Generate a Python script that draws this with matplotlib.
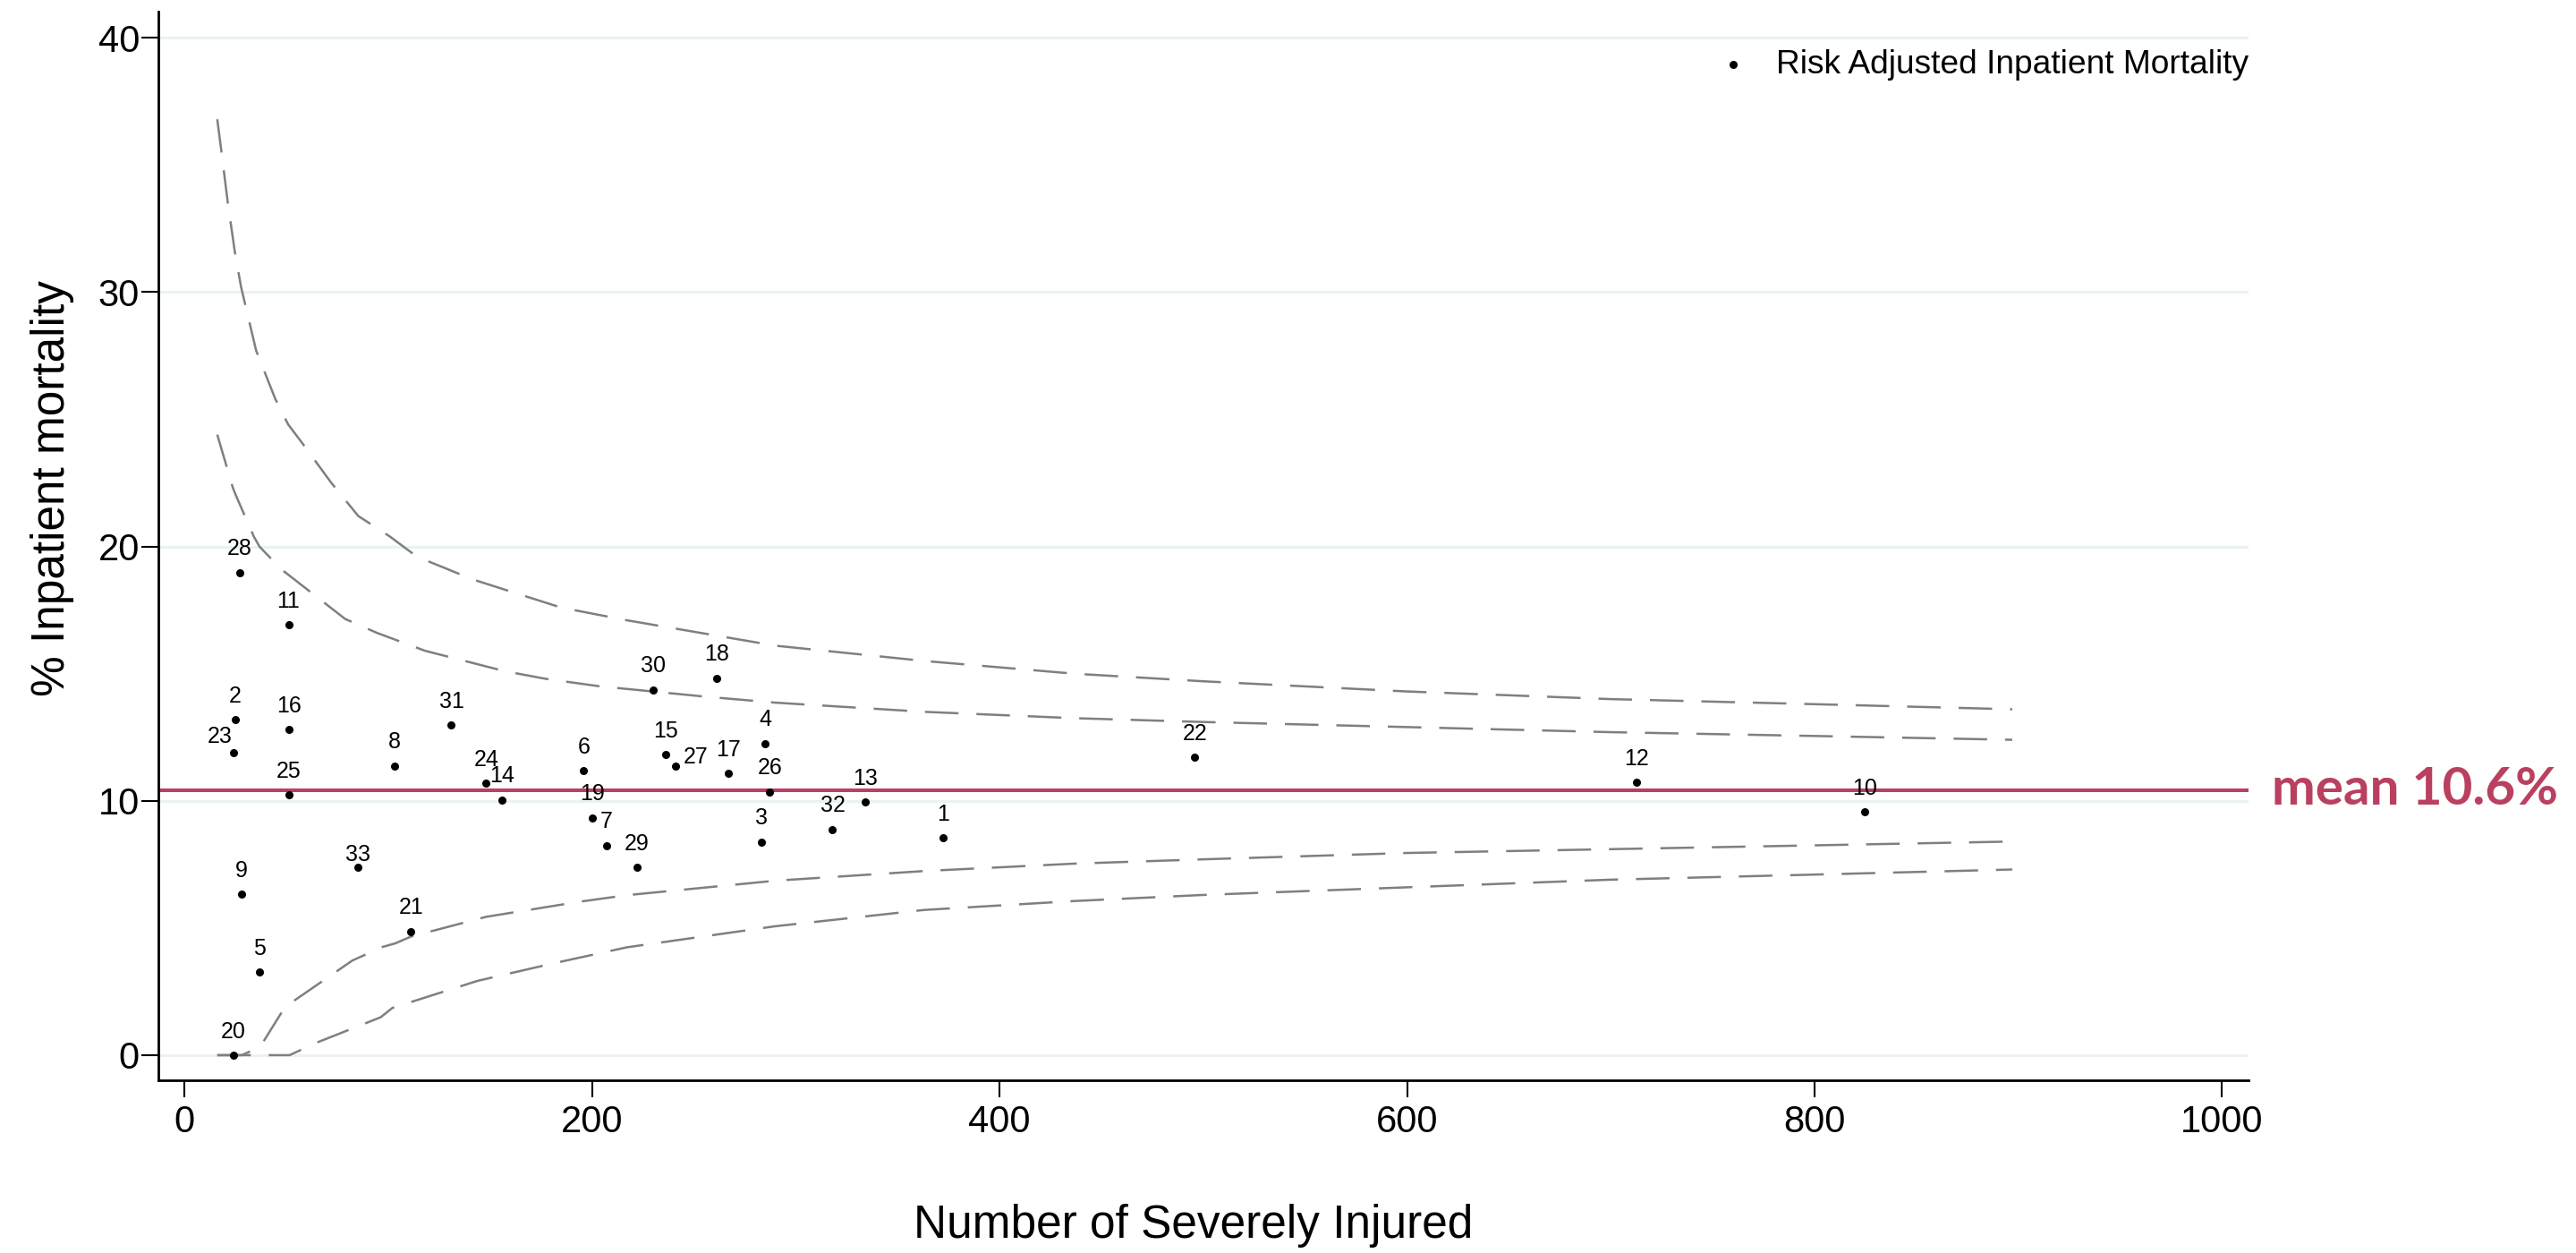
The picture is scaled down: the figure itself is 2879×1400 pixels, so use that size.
import matplotlib
matplotlib.use("Agg")
import matplotlib.pyplot as plt

# hospital id, number of severely injured, risk adjusted mortality (%)
hosp_id = [str(i) for i in range(1, 34)]
n_injured = [372.1, 24.9, 283.1, 285.0, 36.9, 195.9, 207.0, 102.9, 27.8, 824.7,
             51.0, 712.6, 334.1, 155.9, 236.0, 51.1, 267.0, 261.0, 200.0, 23.9,
             111.0, 495.7, 23.9, 148.0, 51.1, 287.1, 241.1, 27.1, 222.1, 230.1,
             130.9, 318.0, 84.9]
mortality = [8.54, 13.19, 8.39, 12.26, 3.27, 11.18, 8.25, 11.37, 6.32, 9.57,
             16.92, 10.73, 9.96, 10.04, 11.81, 12.80, 11.07, 14.82, 9.34, 0.0,
             4.87, 11.70, 11.89, 10.69, 10.24, 10.36, 11.37, 18.98, 7.39, 14.37,
             12.98, 8.88, 7.39]
mean_rate = 10.42
mean_text = "mean 10.6%"

# control limits
upper_outer_x = [16, 18.1, 21.2, 24.6, 27.7, 35.1, 44.5, 50.8, 57.4, 72, 85.2, 100.6,
                 114, 141.6, 184.7, 217, 290, 363, 436.5, 500, 600, 700, 800, 897]
upper_outer_y = [36.8, 35.5, 33.5, 31.6, 30.2, 27.7, 25.8, 24.8, 24.1, 22.5, 21.2, 20.4,
                 19.6, 18.7, 17.6, 17.1, 16.1, 15.5, 15.0, 14.7, 14.3, 14.0, 13.8, 13.6]
upper_inner_x = [16, 23.7, 25.2, 33.9, 36.7, 47.5, 78.8, 94.5, 118, 157, 177, 204, 217,
                 255, 290, 363, 436.5, 500, 600, 700, 800, 897]
upper_inner_y = [24.4, 22.3, 22.0, 20.4, 20.0, 19.1, 17.15, 16.6, 15.9, 15.1, 14.8, 14.5,
                 14.4, 14.1, 13.86, 13.5, 13.25, 13.1, 12.9, 12.7, 12.55, 12.4]
lower_inner_x = [16, 28, 37, 49.3, 51.5, 82.3, 96.9, 103.5, 111, 148, 193.5, 217, 290,
                 363, 436.5, 500, 600, 700, 800, 897]
lower_inner_y = [0, 0, 0.32, 1.9, 2.02, 3.72, 4.25, 4.4, 4.66, 5.44, 6.03, 6.29, 6.86,
                 7.24, 7.53, 7.7, 7.95, 8.1, 8.25, 8.4]
lower_outer_x = [16, 51.5, 64.7, 96.2, 102, 111.5, 143.7, 180.4, 217, 290, 363, 436.5,
                 500, 600, 700, 800, 897]
lower_outer_y = [0, 0, 0.49, 1.49, 1.86, 2.10, 2.92, 3.6, 4.24, 5.07, 5.71, 6.06,
                 6.3, 6.6, 6.9, 7.1, 7.3]

x_ticks = [0, 200, 400, 600, 800, 1000]
y_ticks = [0, 10, 20, 30, 40]

# label offsets (points) where the default "above" position is not used
label_offset = {"23": (-11, 13), "27": (16, 7), "33": (0, 10)}

plt.rcParams["font.family"] = ["Liberation Sans", "DejaVu Sans"]
crimson = "#B9405F"
grey = "#7f7f7f"

fig = plt.figure(figsize=(28.79, 14), dpi=100)
ax = fig.add_axes([0.0614, 0.1379, 0.8115, 0.8528])

for yv in y_ticks:
    ax.axhline(yv, color="#EAF2F3", lw=2.3, zorder=0)
ax.axhline(mean_rate, color=crimson, lw=2.9, zorder=1)

dash = (0, (15, 8))
for cx, cy in [(upper_outer_x, upper_outer_y), (upper_inner_x, upper_inner_y),
               (lower_inner_x, lower_inner_y), (lower_outer_x, lower_outer_y)]:
    ax.plot(cx, cy, color=grey, lw=1.8, ls=dash, zorder=2)

ax.scatter(n_injured, mortality, s=30, color="black", zorder=3,
           label="Risk Adjusted Inpatient Mortality")
for lab, xv, yv in zip(hosp_id, n_injured, mortality):
    off = label_offset.get(lab, (0, 19))
    ax.annotate(lab, (xv, yv), xytext=off, textcoords="offset points",
                ha="center", va="center", fontsize=18, zorder=4)

ax.set_xlim(-13, 1013)
ax.set_ylim(-0.985, 41.03)
ax.set_xticks(x_ticks)
ax.set_yticks(y_ticks)
ax.tick_params(axis="both", labelsize=30, length=13.5, width=1.5)
ax.tick_params(axis="x", pad=6)
ax.tick_params(axis="y", pad=1.5)
for side in ["top", "right"]:
    ax.spines[side].set_visible(False)
for side in ["left", "bottom"]:
    ax.spines[side].set_linewidth(2)

ax.set_xlabel("Number of Severely Injured", fontsize=37)
ax.set_ylabel("% Inpatient mortality", fontsize=37)
ax.xaxis.set_label_coords(0.495, -0.116)
ax.yaxis.set_label_coords(-0.040, 0.554)

ax.text(1.0111, mean_rate, mean_text, transform=ax.get_yaxis_transform(),
        color=crimson, fontsize=42, fontweight="bold", family="Lato",
        ha="left", va="center", clip_on=False)

ax.legend(loc="upper right", bbox_to_anchor=(1.0, 0.965), frameon=False,
          fontsize=26.7, scatterpoints=1, handlelength=1.0, handletextpad=0.8,
          borderpad=0, borderaxespad=0)

fig.savefig("out.png", dpi=100)
